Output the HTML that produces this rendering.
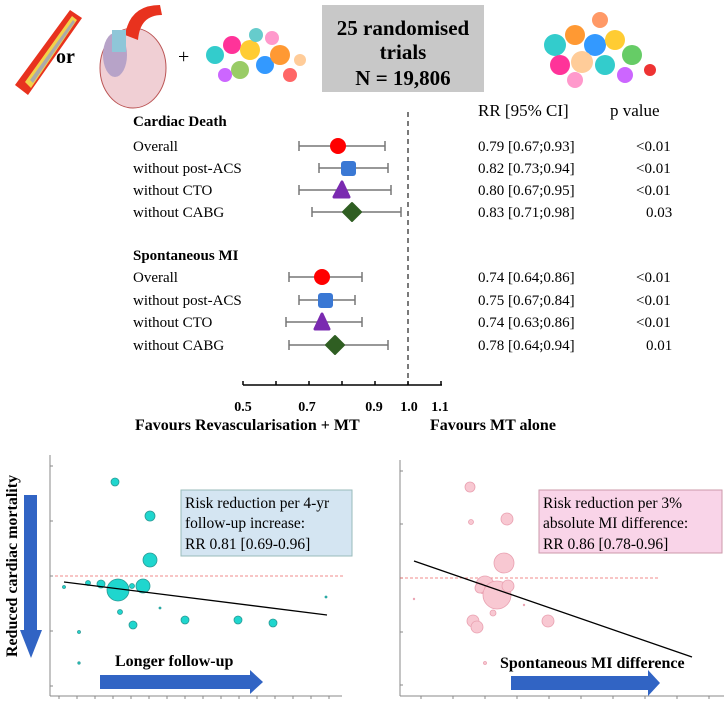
<!DOCTYPE html>
<html><head><style>
body{margin:0;background:#fff;}
svg text{font-family:"Liberation Serif",serif;}
</style></head><body>
<svg width="724" height="700" viewBox="0 0 724 700" xmlns="http://www.w3.org/2000/svg">
<!-- top illustrations -->
<g>
<path d="M15,85 L70,10 L82,18 L28,95 Z" fill="#e8321e"/>
<path d="M25,82 L72,16 L77,20 L31,88 Z" fill="#f2d24a"/>
<path d="M30,80 L73,20 L75,22 L33,83 Z" fill="#aaa"/>
<text x="56" y="63" font-size="20" font-weight="bold">or</text>
<ellipse cx="133" cy="68" rx="33" ry="40" fill="#f0cfd4" stroke="#b55" />
<ellipse cx="115" cy="55" rx="12" ry="22" fill="#b7a3c8"/>
<path d="M125,35 Q130,5 160,5 L162,15 Q140,15 138,40 Z" fill="#e8321e"/>
<rect x="112" y="30" width="14" height="22" fill="#8fc6d8"/>
<text x="178" y="63" font-size="20">+</text>
<g>
<circle cx="215" cy="55" r="9" fill="#3cc"/><circle cx="232" cy="45" r="9" fill="#f39"/><circle cx="250" cy="50" r="10" fill="#fc3"/>
<circle cx="265" cy="65" r="9" fill="#39f"/><circle cx="280" cy="55" r="10" fill="#f93"/><circle cx="240" cy="70" r="9" fill="#9c6"/>
<circle cx="225" cy="75" r="7" fill="#c6f"/><circle cx="290" cy="75" r="7" fill="#f66"/><circle cx="256" cy="35" r="7" fill="#6cc"/>
<circle cx="272" cy="38" r="7" fill="#f9c"/><circle cx="300" cy="60" r="6" fill="#fc9"/>
</g>
<g>
<circle cx="555" cy="45" r="11" fill="#3cc"/><circle cx="575" cy="35" r="10" fill="#f93"/><circle cx="595" cy="45" r="11" fill="#39f"/>
<circle cx="615" cy="40" r="10" fill="#fc3"/><circle cx="632" cy="55" r="10" fill="#6c6"/><circle cx="560" cy="65" r="10" fill="#f39"/>
<circle cx="582" cy="62" r="11" fill="#fc9"/><circle cx="605" cy="65" r="10" fill="#3cc"/><circle cx="625" cy="75" r="8" fill="#c6f"/>
<circle cx="575" cy="80" r="8" fill="#f9c"/><circle cx="600" cy="20" r="8" fill="#f96"/><circle cx="650" cy="70" r="6" fill="#e33"/>
</g>
</g>
<rect x="322" y="5" width="162" height="87" fill="#c8c8c8"/>
<text x="403" y="35" font-size="21" font-weight="bold" text-anchor="middle">25 randomised</text>
<text x="403" y="59" font-size="21" font-weight="bold" text-anchor="middle">trials</text>
<text x="403" y="85" font-size="21" font-weight="bold" text-anchor="middle">N = 19,806</text>

<text x="478" y="116" font-size="17">RR [95% CI]</text>
<text x="610" y="116" font-size="17">p value</text>

<!-- forest -->
<g font-size="15">
<text x="133" y="126" font-weight="bold">Cardiac Death</text>
<text x="133" y="151">Overall</text>
<text x="133" y="173">without post-ACS</text>
<text x="133" y="195">without CTO</text>
<text x="133" y="217">without CABG</text>
<text x="133" y="260" font-weight="bold">Spontaneous MI</text>
<text x="133" y="282">Overall</text>
<text x="133" y="305">without post-ACS</text>
<text x="133" y="327">without CTO</text>
<text x="133" y="350">without CABG</text>
<text x="478" y="151">0.79 [0.67;0.93]</text><text x="636" y="151">&lt;0.01</text>
<text x="478" y="173">0.82 [0.73;0.94]</text><text x="636" y="173">&lt;0.01</text>
<text x="478" y="195">0.80 [0.67;0.95]</text><text x="636" y="195">&lt;0.01</text>
<text x="478" y="217">0.83 [0.71;0.98]</text><text x="646" y="217">0.03</text>
<text x="478" y="282">0.74 [0.64;0.86]</text><text x="636" y="282">&lt;0.01</text>
<text x="478" y="305">0.75 [0.67;0.84]</text><text x="636" y="305">&lt;0.01</text>
<text x="478" y="327">0.74 [0.63;0.86]</text><text x="636" y="327">&lt;0.01</text>
<text x="478" y="350">0.78 [0.64;0.94]</text><text x="646" y="350">0.01</text>
</g>
<line x1="408" y1="112" x2="408" y2="385" stroke="#333" stroke-dasharray="5,4" stroke-width="1.3"/>
<g stroke="#777" stroke-width="1.5">
<line x1="299" y1="146" x2="385" y2="146"/><line x1="299" y1="141" x2="299" y2="151"/><line x1="385" y1="141" x2="385" y2="151"/>
<line x1="319" y1="168" x2="388" y2="168"/><line x1="319" y1="163" x2="319" y2="173"/><line x1="388" y1="163" x2="388" y2="173"/>
<line x1="299" y1="190" x2="391" y2="190"/><line x1="299" y1="185" x2="299" y2="195"/><line x1="391" y1="185" x2="391" y2="195"/>
<line x1="312" y1="212" x2="401" y2="212"/><line x1="312" y1="207" x2="312" y2="217"/><line x1="401" y1="207" x2="401" y2="217"/>
<line x1="289" y1="277" x2="362" y2="277"/><line x1="289" y1="272" x2="289" y2="282"/><line x1="362" y1="272" x2="362" y2="282"/>
<line x1="299" y1="300" x2="355" y2="300"/><line x1="299" y1="295" x2="299" y2="305"/><line x1="355" y1="295" x2="355" y2="305"/>
<line x1="286" y1="322" x2="362" y2="322"/><line x1="286" y1="317" x2="286" y2="327"/><line x1="362" y1="317" x2="362" y2="327"/>
<line x1="289" y1="345" x2="388" y2="345"/><line x1="289" y1="340" x2="289" y2="350"/><line x1="388" y1="340" x2="388" y2="350"/>
</g>
<circle cx="338" cy="146" r="8" fill="#f00"/>
<rect x="341" y="161" width="15" height="15" rx="3" fill="#3a78d4"/>
<path d="M342,182 L349,197 L334,197 Z" fill="#7a2ab0" stroke="#7a2ab0" stroke-width="3" stroke-linejoin="round"/>
<path d="M352,203 L361,212 L352,221 L343,212 Z" fill="#2f5e22" stroke="#2f5e22" stroke-width="2" stroke-linejoin="round"/>
<circle cx="322" cy="277" r="8" fill="#f00"/>
<rect x="318" y="293" width="15" height="15" rx="3" fill="#3a78d4"/>
<path d="M322,314 L329,329 L315,329 Z" fill="#7a2ab0" stroke="#7a2ab0" stroke-width="3" stroke-linejoin="round"/>
<path d="M335,336 L344,345 L335,354 L326,345 Z" fill="#2f5e22" stroke="#2f5e22" stroke-width="2" stroke-linejoin="round"/>
<line x1="243" y1="385" x2="442" y2="385" stroke="#000" stroke-width="1.5"/>
<g stroke="#000" stroke-width="1.5">
<line x1="243" y1="385" x2="243" y2="381"/><line x1="276" y1="385" x2="276" y2="381"/><line x1="309" y1="385" x2="309" y2="381"/><line x1="342" y1="385" x2="342" y2="381"/><line x1="375" y1="385" x2="375" y2="381"/><line x1="408" y1="385" x2="408" y2="381"/><line x1="441" y1="385" x2="441" y2="381"/>
</g>
<g font-size="14" font-weight="bold" text-anchor="middle">
<text x="243" y="411">0.5</text><text x="307" y="411">0.7</text><text x="374" y="411">0.9</text><text x="409" y="411">1.0</text><text x="440" y="411">1.1</text>
</g>
<text x="135" y="430" font-size="16" font-weight="bold">Favours Revascularisation + MT</text>
<text x="430" y="430" font-size="16" font-weight="bold">Favours MT alone</text>

<!-- bottom left -->
<line x1="50" y1="455" x2="50" y2="696" stroke="#888"/>
<line x1="50" y1="696" x2="342" y2="696" stroke="#888"/>
<g stroke="#888">
<line x1="59" y1="696" x2="59" y2="699"/><line x1="77" y1="696" x2="77" y2="699"/><line x1="95" y1="696" x2="95" y2="699"/><line x1="113" y1="696" x2="113" y2="699"/><line x1="131" y1="696" x2="131" y2="699"/><line x1="149" y1="696" x2="149" y2="699"/><line x1="167" y1="696" x2="167" y2="699"/><line x1="185" y1="696" x2="185" y2="699"/><line x1="203" y1="696" x2="203" y2="699"/><line x1="221" y1="696" x2="221" y2="699"/><line x1="239" y1="696" x2="239" y2="699"/><line x1="257" y1="696" x2="257" y2="699"/><line x1="275" y1="696" x2="275" y2="699"/><line x1="293" y1="696" x2="293" y2="699"/><line x1="311" y1="696" x2="311" y2="699"/><line x1="329" y1="696" x2="329" y2="699"/>
<line x1="50" y1="466" x2="53" y2="466"/><line x1="50" y1="521" x2="53" y2="521"/><line x1="50" y1="576" x2="53" y2="576"/><line x1="50" y1="631" x2="53" y2="631"/><line x1="50" y1="686" x2="53" y2="686"/>
</g>
<line x1="55" y1="576" x2="343" y2="576" stroke="#e66" stroke-dasharray="3,2" stroke-width="0.8"/>
<g fill="#1fd6ce" stroke="#2a9a95" stroke-width="0.8">
<circle cx="115" cy="482" r="4"/><circle cx="150" cy="516" r="5"/><circle cx="150" cy="560" r="7"/>
<circle cx="118" cy="590" r="11"/><circle cx="143" cy="586" r="7"/><circle cx="101" cy="584" r="4"/><circle cx="88" cy="583" r="2.5"/>
<circle cx="132" cy="586" r="2.5"/><circle cx="64" cy="587" r="1.5"/><circle cx="120" cy="612" r="2.5"/><circle cx="133" cy="625" r="4"/>
<circle cx="185" cy="620" r="4"/><circle cx="238" cy="620" r="4"/><circle cx="273" cy="623" r="4"/><circle cx="79" cy="632" r="1.5"/>
<circle cx="79" cy="663" r="1.2"/><circle cx="160" cy="608" r="1"/><circle cx="326" cy="597" r="1"/>
</g>
<line x1="64" y1="582" x2="327" y2="615" stroke="#000" stroke-width="1.3"/>
<rect x="181" y="490" width="171" height="66" fill="#d4e5f2" stroke="#9bb" stroke-width="1"/>
<g font-size="15.5"><text x="185" y="508">Risk reduction per 4-yr</text><text x="185" y="528">follow-up increase:</text><text x="185" y="549">RR  0.81 [0.69-0.96]</text></g>
<rect x="24" y="495" width="13" height="135" fill="#3164c4"/>
<path d="M20,630 L42,630 L31,658 Z" fill="#3164c4"/>
<text transform="translate(17,566) rotate(-90)" font-size="16" font-weight="bold" text-anchor="middle">Reduced cardiac mortality</text>
<text x="115" y="666" font-size="16" font-weight="bold">Longer follow-up</text>
<rect x="100" y="675" width="150" height="14" fill="#3164c4"/>
<path d="M250,670 L263,682 L250,694 Z" fill="#3164c4"/>

<!-- bottom right -->
<line x1="400" y1="460" x2="400" y2="696" stroke="#888"/>
<line x1="400" y1="696" x2="724" y2="696" stroke="#888"/>
<g stroke="#888">
<line x1="421" y1="696" x2="421" y2="699"/><line x1="453" y1="696" x2="453" y2="699"/><line x1="485" y1="696" x2="485" y2="699"/><line x1="517" y1="696" x2="517" y2="699"/><line x1="549" y1="696" x2="549" y2="699"/><line x1="581" y1="696" x2="581" y2="699"/><line x1="613" y1="696" x2="613" y2="699"/><line x1="645" y1="696" x2="645" y2="699"/><line x1="677" y1="696" x2="677" y2="699"/><line x1="709" y1="696" x2="709" y2="699"/>
<line x1="400" y1="471" x2="403" y2="471"/><line x1="400" y1="524" x2="403" y2="524"/><line x1="400" y1="578" x2="403" y2="578"/><line x1="400" y1="632" x2="403" y2="632"/><line x1="400" y1="685" x2="403" y2="685"/>
</g>
<line x1="400" y1="578" x2="660" y2="578" stroke="#e66" stroke-dasharray="3,2" stroke-width="0.8"/>
<g fill="#f8c8d2" stroke="#e9a0b0" stroke-width="0.8">
<circle cx="470" cy="487" r="5"/><circle cx="471" cy="522" r="2.5"/><circle cx="507" cy="519" r="6"/>
<circle cx="504" cy="563" r="10"/><circle cx="485" cy="585" r="9"/><circle cx="480" cy="588" r="5"/>
<circle cx="497" cy="595" r="14"/><circle cx="508" cy="586" r="6"/><circle cx="493" cy="613" r="3"/>
<circle cx="473" cy="621" r="6"/><circle cx="477" cy="627" r="6"/><circle cx="548" cy="621" r="6"/>
<circle cx="485" cy="663" r="1.5"/><circle cx="414" cy="599" r="0.8"/><circle cx="524" cy="605" r="0.8"/>
</g>
<line x1="414" y1="561" x2="692" y2="657" stroke="#000" stroke-width="1.3"/>
<rect x="539" y="490" width="183" height="63" fill="#f9d4e8" stroke="#c9a" stroke-width="1"/>
<g font-size="15.5"><text x="543" y="508">Risk reduction per 3%</text><text x="543" y="528">absolute MI difference:</text><text x="543" y="549">RR 0.86 [0.78-0.96]</text></g>
<text x="500" y="668" font-size="16" font-weight="bold">Spontaneous MI difference</text>
<rect x="511" y="676" width="138" height="14" fill="#3164c4"/>
<path d="M648,670 L660,683 L648,696 Z" fill="#3164c4"/>
</svg>
</body></html>
